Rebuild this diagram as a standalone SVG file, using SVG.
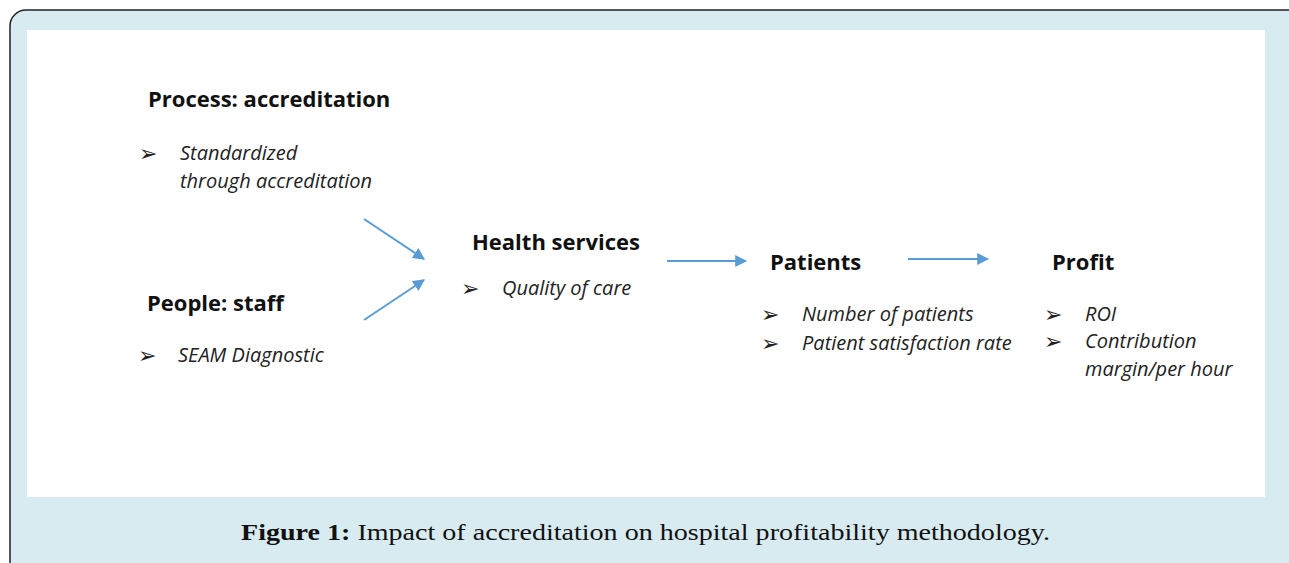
<svg xmlns="http://www.w3.org/2000/svg" width="1289" height="563" viewBox="0 0 1289 563">
<style>
.h{font-family:"Open Sans",sans-serif;font-weight:bold;font-size:22px;fill:#111}
.i{font-family:"Open Sans",sans-serif;font-style:italic;font-size:20px;fill:#222}
.b{font-family:"DejaVu Sans",sans-serif;font-size:22px;fill:#222}
.cap{font-family:"Liberation Serif",serif;font-size:24px;fill:#111}
.c{stroke:#5B9BD5;stroke-width:2;fill:none;marker-end:url(#ah)}
</style>
<defs>
<marker id="ah" viewBox="0 0 10 10" refX="9" refY="5" markerWidth="6" markerHeight="6" orient="auto" markerUnits="strokeWidth">
<path d="M0,0 L10,5 L0,10 Z" fill="#5B9BD5"/>
</marker>
</defs>
<rect x="10" y="10" width="1300" height="580" rx="16" ry="16" fill="#D8EBF1" stroke="#222" stroke-width="1.5"/>
<rect x="27" y="30" width="1238" height="467" fill="#fff"/>
<g id="connectors">
<line class="c" x1="364" y1="219" x2="424" y2="259"/>
<line class="c" x1="364" y1="320" x2="424" y2="280"/>
<line class="c" x1="667" y1="261" x2="746" y2="261"/>
<line class="c" x1="908" y1="259" x2="988" y2="259"/>
</g>
<g id="process">
<text class="h" x="148" y="107">Process: accreditation</text>
<text class="b" x="139" y="161">➢</text>
<text class="i" x="180" y="160">Standardized</text>
<text class="i" x="180" y="188">through accreditation</text>
</g>
<g id="people">
<text class="h" x="147" y="311">People: staff</text>
<text class="b" x="138" y="363">➢</text>
<text class="i" x="178" y="362">SEAM Diagnostic</text>
</g>
<g id="health">
<text class="h" x="472" y="250">Health services</text>
<text class="b" x="461" y="296">➢</text>
<text class="i" x="502" y="295">Quality of care</text>
</g>
<g id="patients">
<text class="h" x="770" y="270">Patients</text>
<text class="b" x="761" y="322">➢</text>
<text class="i" x="802" y="321">Number of patients</text>
<text class="b" x="761" y="351">➢</text>
<text class="i" x="802" y="350">Patient satisfaction rate</text>
</g>
<g id="profit">
<text class="h" x="1052" y="270">Profit</text>
<text class="b" x="1044" y="322">➢</text>
<text class="i" x="1085" y="321">ROI</text>
<text class="b" x="1044" y="349">➢</text>
<text class="i" x="1085" y="348">Contribution</text>
<text class="i" x="1085" y="376">margin/per hour</text>
</g>
<text class="cap" x="241" y="540" textLength="809" lengthAdjust="spacingAndGlyphs"><tspan font-weight="bold">Figure 1:</tspan> Impact of accreditation on hospital profitability methodology.</text>
</svg>
